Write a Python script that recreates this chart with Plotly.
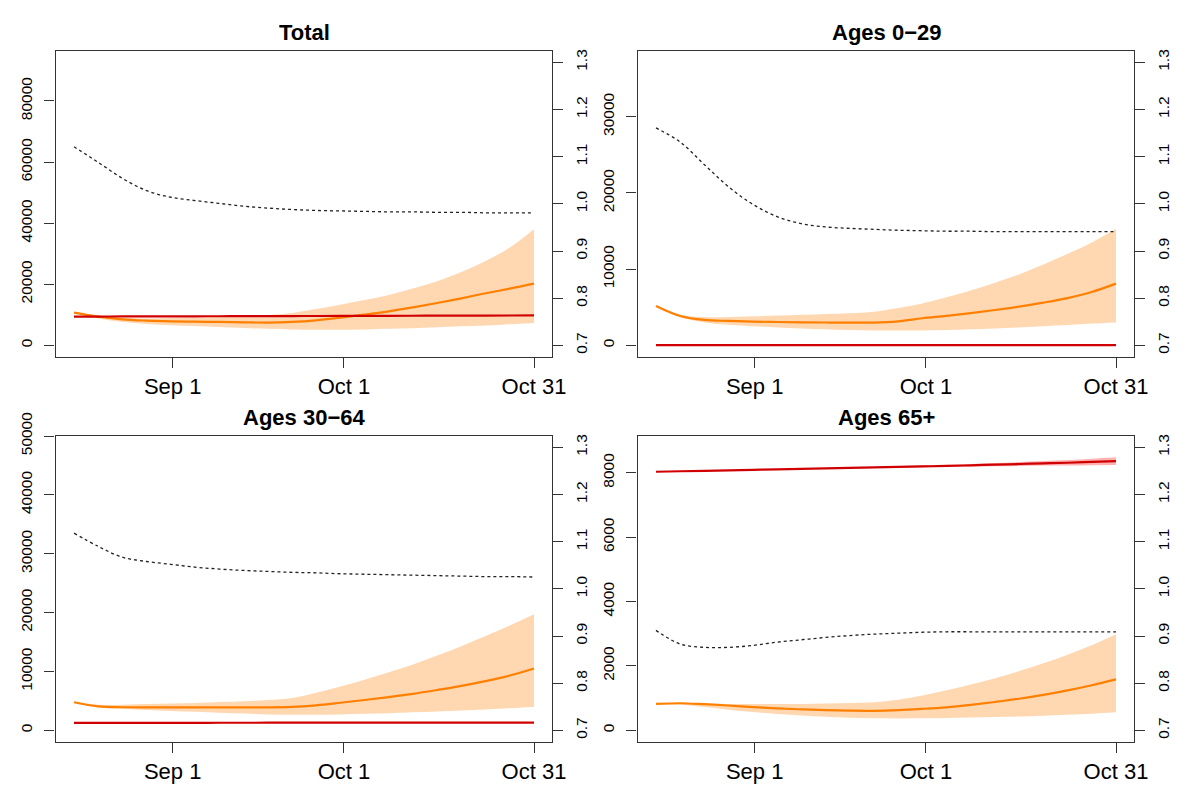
import plotly.graph_objects as go

# ---------------- data ----------------
days = list(range(0, 77, 4))  # day index from mid-August to Oct 31
tick_days = [16.3, 44.6, 76]
tick_labels = ["Sep 1", "Oct 1", "Oct 31"]
titles = ["Total", "Ages 0\u221229", "Ages 30\u221264", "Ages 65+"]

total_mid = [10700, 9400, 8500, 8080, 7860, 7750, 7640, 7530, 7420, 7640,
             8190, 9060, 10040, 11130, 12440, 13860, 15390, 17030, 18550, 20190]
total_up = [10800, 9700, 9000, 8800, 8900, 9100, 9300, 9600, 9900, 10600,
            11900, 13300, 14800, 16500, 18600, 21000, 24000, 27600, 32000, 38000]
total_lo = [10500, 8800, 7600, 7000, 6600, 6300, 6000, 5700, 5400, 5200,
            5100, 5100, 5200, 5400, 5600, 5900, 6200, 6500, 6900, 7300]
total_red = [9400, 9420, 9440, 9460, 9480, 9500, 9520, 9540, 9560, 9580,
             9600, 9620, 9640, 9660, 9680, 9700, 9720, 9740, 9760, 9800]
total_ratio = [1.121, 1.088, 1.054, 1.028, 1.014, 1.007, 1.001, 0.995, 0.991, 0.988,
               0.986, 0.985, 0.984, 0.983, 0.983, 0.982, 0.982, 0.981, 0.981, 0.981]

a029_mid = [5160, 3850, 3330, 3200, 3110, 3060, 3020, 2990, 2970, 2980,
            3150, 3550, 3870, 4230, 4630, 5080, 5600, 6200, 7000, 8090]
a029_up = [5200, 4000, 3700, 3700, 3800, 3900, 4000, 4100, 4200, 4400,
           4900, 5500, 6300, 7200, 8200, 9300, 10600, 12000, 13500, 15300]
a029_lo = [5100, 3700, 3000, 2700, 2500, 2350, 2200, 2100, 2000, 1950,
           1950, 1950, 2000, 2100, 2200, 2350, 2500, 2650, 2850, 3000]
a029_red = [20] * 20
a029_ratio = [1.161, 1.131, 1.083, 1.036, 0.999, 0.973, 0.958, 0.951, 0.948, 0.946,
              0.944, 0.943, 0.942, 0.942, 0.941, 0.941, 0.941, 0.941, 0.941, 0.941]

a3064_mid = [4760, 4050, 3920, 3900, 3900, 3900, 3900, 3900, 3900, 3980,
             4250, 4680, 5150, 5650, 6200, 6850, 7550, 8350, 9300, 10500]
a3064_up = [4800, 4350, 4350, 4450, 4550, 4650, 4800, 4950, 5150, 5500,
            6400, 7450, 8600, 9850, 11200, 12700, 14300, 16000, 17800, 19700]
a3064_lo = [4700, 3950, 3650, 3450, 3300, 3150, 3000, 2850, 2700, 2650,
            2650, 2700, 2800, 2900, 3050, 3200, 3350, 3550, 3750, 3950]
a3064_red = [1250, 1255, 1260, 1265, 1270, 1275, 1280, 1285, 1290, 1295,
             1300, 1302, 1304, 1306, 1308, 1310, 1312, 1314, 1316, 1320]
a3064_ratio = [1.118, 1.090, 1.067, 1.058, 1.052, 1.046, 1.042, 1.039, 1.037, 1.035,
               1.034, 1.032, 1.031, 1.030, 1.029, 1.028, 1.027, 1.026, 1.026, 1.025]

a65_mid = [820, 840, 810, 770, 720, 680, 650, 625, 610, 605,
           625, 665, 715, 790, 880, 980, 1100, 1240, 1400, 1580]
a65_up = [830, 850, 830, 820, 815, 815, 820, 830, 845, 870,
          950, 1080, 1240, 1420, 1620, 1840, 2080, 2350, 2640, 2980]
a65_lo = [810, 800, 720, 640, 570, 510, 460, 420, 390, 375,
          370, 372, 380, 395, 410, 430, 455, 480, 515, 560]
a65_red = [8030, 8045, 8060, 8075, 8090, 8105, 8120, 8135, 8150, 8165,
           8180, 8195, 8210, 8230, 8250, 8270, 8290, 8310, 8335, 8360]
a65_red_up = [8030, 8045, 8060, 8075, 8095, 8110, 8130, 8145, 8165, 8180,
              8200, 8220, 8240, 8270, 8300, 8330, 8360, 8395, 8435, 8480]
a65_red_lo = [8030, 8045, 8060, 8075, 8085, 8100, 8110, 8125, 8135, 8150,
              8160, 8170, 8180, 8190, 8200, 8210, 8220, 8225, 8235, 8240]
a65_ratio = [0.912, 0.883, 0.876, 0.876, 0.880, 0.887, 0.892, 0.897, 0.901, 0.904,
             0.906, 0.908, 0.909, 0.909, 0.909, 0.909, 0.909, 0.909, 0.909, 0.909]

left_ticks = [
    [0, 20000, 40000, 60000, 80000],
    [0, 10000, 20000, 30000],
    [0, 10000, 20000, 30000, 40000, 50000],
    [0, 2000, 4000, 6000, 8000],
]
left_ranges = [[-3733, 96365], [-1496, 38622], [-1937, 50000], [-354, 9140]]
right_ticks = [0.7, 0.8, 0.9, 1.0, 1.1, 1.2, 1.3]
right_range = [0.676, 1.324]

panels = [
    dict(mid=total_mid, up=total_up, lo=total_lo, red=total_red, ratio=total_ratio),
    dict(mid=a029_mid, up=a029_up, lo=a029_lo, red=a029_red, ratio=a029_ratio),
    dict(mid=a3064_mid, up=a3064_up, lo=a3064_lo, red=a3064_red, ratio=a3064_ratio),
    dict(mid=a65_mid, up=a65_up, lo=a65_lo, red=a65_red, ratio=a65_ratio,
         red_up=a65_red_up, red_lo=a65_red_lo),
]

# ---------------- layout geometry (pixels of a 1200x808 canvas) ----------------
W, H = 1200, 808
x_doms_px = [(55.6, 552.4), (637.6, 1134.4), (55.6, 552.4), (637.6, 1134.4)]
y_doms_px = [(51, 356.7), (51, 356.7), (436, 741.7), (436, 741.7)]

ORANGE = "#FF7F00"
BAND = "rgba(255,127,0,0.30)"
RED = "#D00000"
RED_BAND = "rgba(255,0,0,0.30)"
AXC = "#333333"
FONT = "Liberation Sans, Arial, sans-serif"

fig = go.Figure()
layout = dict(
    width=W, height=H, margin=dict(l=0, r=0, t=0, b=0, autoexpand=False),
    paper_bgcolor="white", plot_bgcolor="white", showlegend=False,
    font=dict(family=FONT, color="black"),
)
annotations = []

for i, p in enumerate(panels):
    n = i + 1
    xa = "x" if n == 1 else f"x{n}"
    ya = "y" if n == 1 else f"y{n}"
    ya2 = f"y{n + 4}"
    # uncertainty band
    fig.add_trace(go.Scatter(x=days, y=p["lo"], xaxis=xa, yaxis=ya, mode="lines",
                             line=dict(width=0, shape="spline", color=BAND), hoverinfo="skip"))
    fig.add_trace(go.Scatter(x=days, y=p["up"], xaxis=xa, yaxis=ya, mode="lines",
                             line=dict(width=0, shape="spline", color=BAND),
                             fill="tonexty", fillcolor=BAND, hoverinfo="skip"))
    fig.add_trace(go.Scatter(x=days, y=p["mid"], xaxis=xa, yaxis=ya, mode="lines",
                             line=dict(width=2.2, shape="spline", color=ORANGE)))
    if p.get("red_up") is not None:
        fig.add_trace(go.Scatter(x=days, y=p["red_lo"], xaxis=xa, yaxis=ya, mode="lines",
                                 line=dict(width=0, shape="spline", color=RED_BAND), hoverinfo="skip"))
        fig.add_trace(go.Scatter(x=days, y=p["red_up"], xaxis=xa, yaxis=ya, mode="lines",
                                 line=dict(width=0, shape="spline", color=RED_BAND),
                                 fill="tonexty", fillcolor=RED_BAND, hoverinfo="skip"))
    fig.add_trace(go.Scatter(x=days, y=p["red"], xaxis=xa, yaxis=ya, mode="lines",
                             line=dict(width=2.2, shape="spline", color=RED)))
    fig.add_trace(go.Scatter(x=days, y=p["ratio"], xaxis=xa, yaxis=ya2, mode="lines",
                             line=dict(width=1.3, shape="spline", color="#222222", dash="3px,3px")))

    x0, x1 = x_doms_px[i]
    y0, y1 = y_doms_px[i]
    xdom = [x0 / W, x1 / W]
    ydom = [1 - y1 / H, 1 - y0 / H]
    xkey = "xaxis" if n == 1 else f"xaxis{n}"
    ykey = "yaxis" if n == 1 else f"yaxis{n}"
    ykey2 = f"yaxis{n + 4}"
    layout[xkey] = dict(
        domain=xdom, anchor=ya, range=[-3.04, 79.04], showgrid=False, zeroline=False,
        showline=True, mirror=True, linecolor=AXC, linewidth=1.3,
        tickmode="array", tickvals=tick_days, ticktext=tick_labels,
        ticks="outside", ticklen=10, tickwidth=1.3, tickcolor=AXC,
        tickfont=dict(size=22, family=FONT, color="black"), ticklabelstandoff=0,
    )
    layout[ykey] = dict(
        domain=ydom, anchor=xa, range=left_ranges[i], showgrid=False, zeroline=False,
        showline=True, mirror=True, linecolor=AXC, linewidth=1.3,
        tickmode="array", tickvals=left_ticks[i], ticktext=[str(v) for v in left_ticks[i]],
        ticks="outside", ticklen=10, tickwidth=1.3, tickcolor=AXC, tickangle=-90,
        tickfont=dict(size=15.5, family=FONT, color="black"), ticklabelstandoff=6,
    )
    layout[ykey2] = dict(
        domain=ydom, anchor=xa, overlaying=ya, side="right", range=right_range,
        showgrid=False, zeroline=False, showline=False,
        tickmode="array", tickvals=right_ticks, ticktext=[f"{v:.1f}" for v in right_ticks],
        ticks="outside", ticklen=10, tickwidth=1.3, tickcolor=AXC, tickangle=-90,
        tickfont=dict(size=15.5, family=FONT, color="black"), ticklabelstandoff=5,
    )
    annotations.append(dict(
        text=f"<b>{titles[i]}</b>", xref="paper", yref="paper",
        x=(x0 + x1) / 2 / W, y=1 - (y0 - 19) / H, xanchor="center", yanchor="middle",
        showarrow=False, font=dict(size=22, family=FONT, color="black"),
    ))

layout["annotations"] = annotations
fig.update_layout(**layout)
fig.write_html(
    "out.html",
    config={"displayModeBar": False},
    post_script="document.body.style.margin='0';document.body.style.overflow='hidden';",
)
